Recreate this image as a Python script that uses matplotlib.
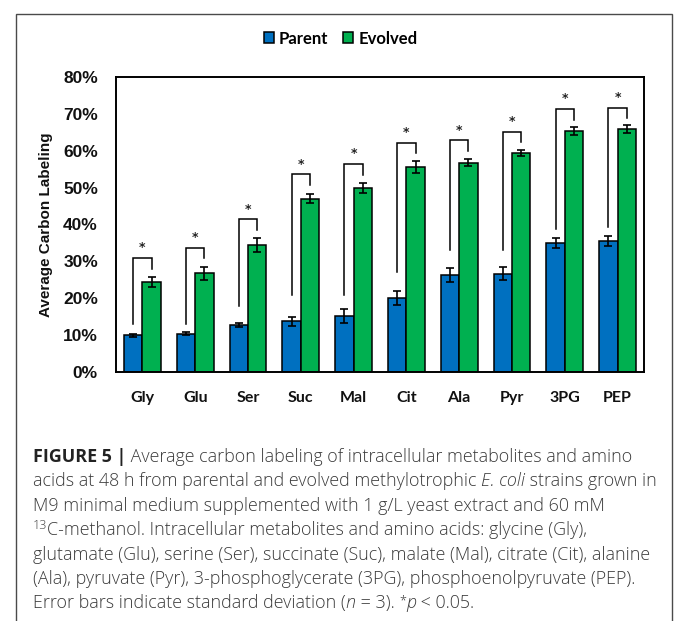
import matplotlib
matplotlib.use("Agg")
import matplotlib.pyplot as plt
import numpy as np
from matplotlib.patches import Patch, Rectangle
from matplotlib.ticker import PercentFormatter, MultipleLocator
from matplotlib.font_manager import FontProperties

categories = ['Gly', 'Glu', 'Ser', 'Suc', 'Mal', 'Cit', 'Ala', 'Pyr', '3PG', 'PEP']
parent = [9.9, 10.4, 12.8, 13.7, 15.2, 20.0, 26.2, 26.7, 35.0, 35.6]
parent_err = [0.3, 0.4, 0.5, 1.2, 1.9, 1.9, 1.9, 1.8, 1.4, 1.4]
evolved = [24.4, 26.8, 34.4, 47.0, 49.9, 55.6, 56.8, 59.4, 65.4, 65.9]
evolved_err = [1.4, 1.8, 1.9, 1.2, 1.3, 1.5, 1.0, 0.7, 1.1, 1.2]
bracket_top = [30.9, 33.7, 41.4, 53.6, 56.4, 62.2, 62.8, 65.2, 71.3, 71.7]
bracket_left_bottom = [13.0, 13.0, 18.0, 20.8, 20.8, 27.0, 33.2, 33.1, 38.9, 39.4]
series_names = ['Parent', 'Evolved']
y_label = 'Average Carbon Labeling'

W, H = 676, 621
fig = plt.figure(figsize=(W / 100, H / 100), dpi=100)
fig.patch.set_facecolor('white')

# outer frame
fig.patches.append(Rectangle((16 / W, -0.05), (672 - 16) / W, 1 - 14 / H + 0.05,
                             transform=fig.transFigure, fill=False,
                             edgecolor='#4a4a4a', linewidth=1.0))

ax = fig.add_axes([116 / W, 1 - 372 / H, (644 - 116) / W, (372 - 77) / H])
BLUE = '#0070C0'
GREEN = '#00B050'
x = np.arange(len(categories))
bw = 0.35
ekw = dict(ecolor='black', elinewidth=1.2, capsize=3.2, capthick=1.2)
ax.bar(x - bw / 2, parent, bw, yerr=parent_err, color=BLUE, edgecolor='black',
       linewidth=1.1, error_kw=ekw, zorder=2)
ax.bar(x + bw / 2, evolved, bw, yerr=evolved_err, color=GREEN, edgecolor='black',
       linewidth=1.1, error_kw=ekw, zorder=2)

drop = 2.9
for i in range(len(categories)):
    xl = x[i] - bw / 2
    xr = x[i] + bw / 2
    top = bracket_top[i]
    ax.plot([xl, xl, xr, xr], [bracket_left_bottom[i], top, top, top - drop],
            color='black', linewidth=1.1, solid_joinstyle='miter', zorder=3)
    ax.text((xl + xr) / 2, top + 1.0, '*', ha='center', va='bottom',
            fontsize=9, fontweight='bold', color='#222222')

ax.set_xlim(-0.5, len(categories) - 0.5)
ax.set_ylim(0, 80)
ax.yaxis.set_major_locator(MultipleLocator(10))
ax.yaxis.set_major_formatter(PercentFormatter(decimals=0))
ax.set_xticks(x)
ax.set_xticklabels(categories)
ax.tick_params(axis='both', length=0)
ax.tick_params(axis='y', pad=13)
ax.tick_params(axis='x', pad=14)
for lab in ax.get_yticklabels():
    lab.set_fontfamily('Liberation Sans')
    lab.set_fontweight('bold')
    lab.set_fontsize(12.5)
    lab.set_color('#111111')
for lab in ax.get_xticklabels():
    lab.set_fontfamily('Lato')
    lab.set_fontweight('bold')
    lab.set_fontsize(11.5)
    lab.set_color('#111111')
for sp in ax.spines.values():
    sp.set_linewidth(1.4)
    sp.set_color('black')
fig.text(46 / W, 1 - 224.5 / H, y_label, rotation=90, ha='center', va='center',
         fontfamily='Liberation Sans', fontweight='bold', fontsize=11, color='#111111')

handles = [Patch(facecolor=BLUE, edgecolor='black', linewidth=1.1),
           Patch(facecolor=GREEN, edgecolor='black', linewidth=1.1)]
fig.legend(handles, series_names, loc='center', bbox_to_anchor=(340.5 / W, 1 - 38.5 / H),
           ncol=2, frameon=False, handlelength=0.6, handleheight=0.6,
           handletextpad=0.3, columnspacing=0.9,
           prop=FontProperties(family='Lato', weight='bold', size=12))

# caption
renderer = fig.canvas.get_renderer()
CFAM = 'Open Sans'


def seg_width(s, prop):
    w1 = renderer.get_text_width_height_descent('x' + s + 'x', prop, ismath=False)[0]
    w0 = renderer.get_text_width_height_descent('xx', prop, ismath=False)[0]
    return w1 - w0


def make_props(size):
    return (FontProperties(family=CFAM, size=size, weight='light'),
            FontProperties(family=CFAM, size=size, weight='bold'),
            FontProperties(family=CFAM, size=size, style='italic', weight='light'),
            FontProperties(family=CFAM, size=size * 0.7, weight='light'))


# fit caption font size so the second line spans the measured text width (~623 px)
r0, b0, i0, s0 = make_props(10)
probe_w = (seg_width("acids at 48 h from parental and evolved methylotrophic ", r0)
           + seg_width("E. coli", i0) + seg_width(" strains grown in", r0))
CAP = 10 * 623 / probe_w
regular, bold, italic, sup = make_props(CAP)
CCOL = '#3a3a3a'


def draw_line(segments, x_px, y_px):
    for s, prop, dy in segments:
        fig.text(x_px / W, 1 - (y_px - dy) / H, s, fontproperties=prop, va='baseline',
                 ha='left', color='#222222' if prop is bold else CCOL)
        x_px += seg_width(s, prop)


lines = [
    [("FIGURE 5 |", bold, 0), (" Average carbon labeling of intracellular metabolites and amino", regular, 0)],
    [("acids at 48 h from parental and evolved methylotrophic ", regular, 0), ("E. coli", italic, 0),
     (" strains grown in", regular, 0)],
    [("M9 minimal medium supplemented with 1 g/L yeast extract and 60 mM", regular, 0)],
    [("13", sup, 6), ("C-methanol. Intracellular metabolites and amino acids: glycine (Gly),", regular, 0)],
    [("glutamate (Glu), serine (Ser), succinate (Suc), malate (Mal), citrate (Cit), alanine", regular, 0)],
    [("(Ala), pyruvate (Pyr), 3-phosphoglycerate (3PG), phosphoenolpyruvate (PEP).", regular, 0)],
    [("Error bars indicate standard deviation (", regular, 0), ("n", italic, 0), (" = 3). ", regular, 0),
     ("*", sup, 4), ("p", italic, 0), (" < 0.05.", regular, 0)],
]
for i, ln in enumerate(lines):
    draw_line(ln, 33, 462 + 24.4 * i)

fig.savefig('out.png', dpi=100, facecolor='white')
